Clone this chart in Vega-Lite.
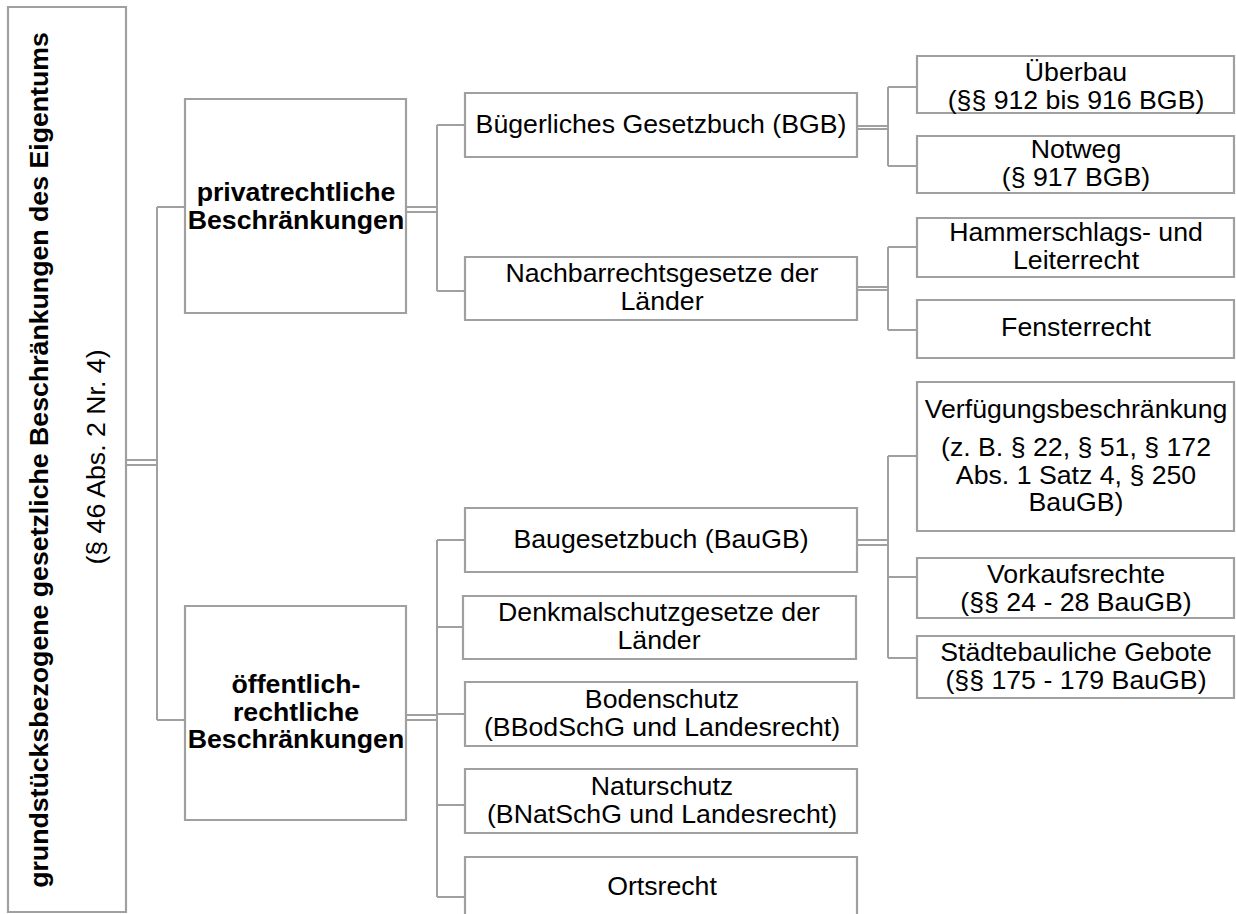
{
  "$schema": "https://vega.github.io/schema/vega-lite/v6.json",
  "width": 1236,
  "height": 914,
  "padding": 0,
  "autosize": {"type": "fit", "contains": "padding"},
  "background": "white",
  "config": {"view": {"stroke": null}},
  "datasets": {
    "boxes": [
      {"id": "root", "x1": 8, "y1": 7, "x2": 126, "y2": 912},
      {"id": "priv", "x1": 185, "y1": 99, "x2": 406, "y2": 313},
      {"id": "pub", "x1": 185, "y1": 606, "x2": 406, "y2": 820},
      {"id": "bgb", "x1": 465, "y1": 93, "x2": 857, "y2": 157},
      {"id": "nach", "x1": 465, "y1": 257, "x2": 857, "y2": 320},
      {"id": "baugb", "x1": 465, "y1": 508, "x2": 857, "y2": 572},
      {"id": "denk", "x1": 463, "y1": 596, "x2": 856, "y2": 659},
      {"id": "boden", "x1": 465, "y1": 682, "x2": 857, "y2": 746},
      {"id": "natur", "x1": 465, "y1": 769, "x2": 857, "y2": 833},
      {"id": "orts", "x1": 465, "y1": 857, "x2": 857, "y2": 930},
      {"id": "ueber", "x1": 917, "y1": 56, "x2": 1234, "y2": 113},
      {"id": "notweg", "x1": 917, "y1": 136, "x2": 1234, "y2": 193},
      {"id": "hammer", "x1": 917, "y1": 218, "x2": 1234, "y2": 277},
      {"id": "fenster", "x1": 917, "y1": 300, "x2": 1234, "y2": 358},
      {"id": "verf", "x1": 917, "y1": 382, "x2": 1234, "y2": 531},
      {"id": "vork", "x1": 917, "y1": 558, "x2": 1234, "y2": 618},
      {"id": "staedte", "x1": 917, "y1": 636, "x2": 1234, "y2": 698}
    ],
    "links": [
      {"x1": 126, "y1": 460, "x2": 157, "y2": 460},
      {"x1": 126, "y1": 465, "x2": 157, "y2": 465},
      {"x1": 157, "y1": 207, "x2": 157, "y2": 720},
      {"x1": 157, "y1": 207, "x2": 185, "y2": 207},
      {"x1": 157, "y1": 720, "x2": 185, "y2": 720},
      {"x1": 406, "y1": 207, "x2": 437, "y2": 207},
      {"x1": 406, "y1": 212, "x2": 437, "y2": 212},
      {"x1": 437, "y1": 125, "x2": 437, "y2": 291},
      {"x1": 437, "y1": 125, "x2": 465, "y2": 125},
      {"x1": 437, "y1": 291, "x2": 465, "y2": 291},
      {"x1": 857, "y1": 126, "x2": 888, "y2": 126},
      {"x1": 857, "y1": 129, "x2": 888, "y2": 129},
      {"x1": 888, "y1": 87, "x2": 888, "y2": 166},
      {"x1": 888, "y1": 87, "x2": 917, "y2": 87},
      {"x1": 888, "y1": 166, "x2": 917, "y2": 166},
      {"x1": 857, "y1": 287, "x2": 888, "y2": 287},
      {"x1": 857, "y1": 290, "x2": 888, "y2": 290},
      {"x1": 888, "y1": 247, "x2": 888, "y2": 330},
      {"x1": 888, "y1": 247, "x2": 917, "y2": 247},
      {"x1": 888, "y1": 330, "x2": 917, "y2": 330},
      {"x1": 406, "y1": 715, "x2": 437, "y2": 715},
      {"x1": 406, "y1": 720, "x2": 437, "y2": 720},
      {"x1": 437, "y1": 540, "x2": 437, "y2": 897},
      {"x1": 437, "y1": 540, "x2": 465, "y2": 540},
      {"x1": 437, "y1": 627, "x2": 463, "y2": 627},
      {"x1": 437, "y1": 714, "x2": 465, "y2": 714},
      {"x1": 437, "y1": 805, "x2": 465, "y2": 805},
      {"x1": 437, "y1": 897, "x2": 465, "y2": 897},
      {"x1": 857, "y1": 540, "x2": 888, "y2": 540},
      {"x1": 857, "y1": 545, "x2": 888, "y2": 545},
      {"x1": 888, "y1": 456, "x2": 888, "y2": 658},
      {"x1": 888, "y1": 456, "x2": 917, "y2": 456},
      {"x1": 888, "y1": 577, "x2": 917, "y2": 577},
      {"x1": 888, "y1": 658, "x2": 917, "y2": 658}
    ],
    "labels": [
      {"kind": "rotbold", "x": 40, "y": 460, "text": "grundstücksbezogene gesetzliche Beschränkungen des Eigentums"},
      {"kind": "rot", "x": 97, "y": 457, "text": "(§ 46 Abs. 2 Nr. 4)"},
      {"kind": "bold", "x": 296, "y": 193, "text": "privatrechtliche\nBeschränkungen"},
      {"kind": "bold", "x": 296, "y": 685, "text": "öffentlich-\nrechtliche\nBeschränkungen"},
      {"kind": "normal", "x": 661, "y": 125, "text": "Bügerliches Gesetzbuch (BGB)"},
      {"kind": "normal", "x": 662, "y": 274, "text": "Nachbarrechtsgesetze der\nLänder"},
      {"kind": "normal", "x": 661, "y": 540, "text": "Baugesetzbuch (BauGB)"},
      {"kind": "normal", "x": 659, "y": 613, "text": "Denkmalschutzgesetze der\nLänder"},
      {"kind": "normal", "x": 662, "y": 700, "text": "Bodenschutz\n(BBodSchG und Landesrecht)"},
      {"kind": "normal", "x": 662, "y": 787, "text": "Naturschutz\n(BNatSchG und Landesrecht)"},
      {"kind": "normal", "x": 662, "y": 887, "text": "Ortsrecht"},
      {"kind": "normal", "x": 1076, "y": 73, "text": "Überbau\n(§§ 912 bis 916 BGB)"},
      {"kind": "normal", "x": 1076, "y": 150, "text": "Notweg\n(§ 917 BGB)"},
      {"kind": "normal", "x": 1076, "y": 233, "text": "Hammerschlags- und\nLeiterrecht"},
      {"kind": "normal", "x": 1076, "y": 328, "text": "Fensterrecht"},
      {"kind": "normal", "x": 1076, "y": 410, "text": "Verfügungsbeschränkung"},
      {"kind": "normal", "x": 1076, "y": 448, "text": "(z. B. § 22, § 51, § 172\nAbs. 1 Satz 4, § 250\nBauGB)"},
      {"kind": "normal", "x": 1076, "y": 575, "text": "Vorkaufsrechte\n(§§ 24 - 28 BauGB)"},
      {"kind": "normal", "x": 1076, "y": 653, "text": "Städtebauliche Gebote\n(§§ 175 - 179 BauGB)"}
    ]
  },
  "layer": [
    {
      "data": {"name": "links"},
      "mark": {"type": "rule", "stroke": "#a0a0a0", "strokeWidth": 2},
      "encoding": {
        "x": {"field": "x1", "type": "quantitative", "scale": {"domain": [0, 1236], "nice": false, "zero": false}, "axis": null},
        "y": {"field": "y1", "type": "quantitative", "scale": {"domain": [0, 914], "nice": false, "zero": false, "reverse": true}, "axis": null},
        "x2": {"field": "x2"},
        "y2": {"field": "y2"}
      }
    },
    {
      "data": {"name": "boxes"},
      "mark": {"type": "rect", "fill": "white", "stroke": "#a0a0a0", "strokeWidth": 2.2, "clip": true},
      "encoding": {
        "x": {"field": "x1", "type": "quantitative", "axis": null},
        "y": {"field": "y1", "type": "quantitative", "axis": null},
        "x2": {"field": "x2"},
        "y2": {"field": "y2"}
      }
    },
    {
      "data": {"name": "labels"},
      "transform": [{"filter": "datum.kind === 'normal'"}],
      "mark": {"type": "text", "font": "Liberation Sans", "fontSize": 26.7, "lineHeight": 27.5, "lineBreak": "\n", "align": "center", "baseline": "middle", "color": "black"},
      "encoding": {
        "x": {"field": "x", "type": "quantitative", "axis": null},
        "y": {"field": "y", "type": "quantitative", "axis": null},
        "text": {"field": "text"}
      }
    },
    {
      "data": {"name": "labels"},
      "transform": [{"filter": "datum.kind === 'bold'"}],
      "mark": {"type": "text", "font": "Liberation Sans", "fontSize": 26.7, "fontWeight": "bold", "lineHeight": 27.5, "lineBreak": "\n", "align": "center", "baseline": "middle", "color": "black"},
      "encoding": {
        "x": {"field": "x", "type": "quantitative", "axis": null},
        "y": {"field": "y", "type": "quantitative", "axis": null},
        "text": {"field": "text"}
      }
    },
    {
      "data": {"name": "labels"},
      "transform": [{"filter": "datum.kind === 'rotbold'"}],
      "mark": {"type": "text", "font": "Liberation Sans", "fontSize": 26.7, "fontWeight": "bold", "angle": 270, "align": "center", "baseline": "middle", "color": "black"},
      "encoding": {
        "x": {"field": "x", "type": "quantitative", "axis": null},
        "y": {"field": "y", "type": "quantitative", "axis": null},
        "text": {"field": "text"}
      }
    },
    {
      "data": {"name": "labels"},
      "transform": [{"filter": "datum.kind === 'rot'"}],
      "mark": {"type": "text", "font": "Liberation Sans", "fontSize": 26.7, "angle": 270, "align": "center", "baseline": "middle", "color": "black"},
      "encoding": {
        "x": {"field": "x", "type": "quantitative", "axis": null},
        "y": {"field": "y", "type": "quantitative", "axis": null},
        "text": {"field": "text"}
      }
    }
  ]
}
